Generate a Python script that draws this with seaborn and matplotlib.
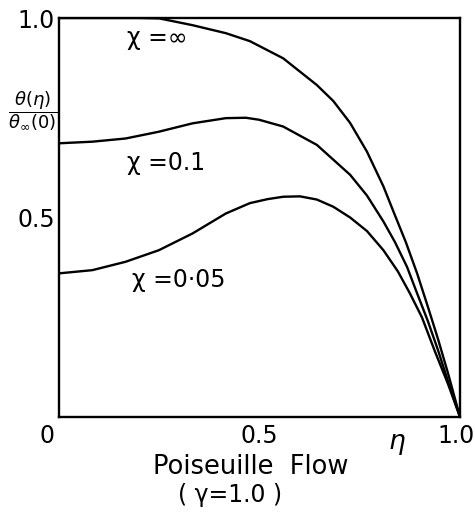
import numpy as np
import pandas as pd
import matplotlib
matplotlib.use("Agg")
import matplotlib.pyplot as plt
import seaborn as sns
from matplotlib.transforms import ScaledTranslation

# ---- data ----
eta_inf = [0.0, 0.10, 0.20, 0.25, 0.333, 0.416, 0.476, 0.559, 0.643, 0.684, 0.726,
           0.768, 0.809, 0.838, 0.865, 0.893, 0.920, 0.945, 0.970, 1.0]
theta_inf = [1.0, 1.0, 1.0, 0.999, 0.982, 0.962, 0.942, 0.899, 0.832, 0.792, 0.737,
             0.665, 0.578, 0.505, 0.438, 0.360, 0.276, 0.196, 0.110, 0.0]

eta_01 = [0.0, 0.083, 0.166, 0.249, 0.333, 0.416, 0.466, 0.499, 0.559, 0.643, 0.726,
          0.768, 0.809, 0.838, 0.868, 0.893, 0.920, 0.945, 0.970, 1.0]
theta_01 = [0.686, 0.690, 0.698, 0.715, 0.736, 0.749, 0.750, 0.745, 0.728, 0.682, 0.607,
            0.555, 0.490, 0.438, 0.376, 0.310, 0.240, 0.168, 0.090, 0.0]

eta_005 = [0.0, 0.083, 0.166, 0.249, 0.333, 0.416, 0.476, 0.520, 0.559, 0.601, 0.643,
           0.684, 0.726, 0.768, 0.809, 0.845, 0.875, 0.905, 0.938, 0.970, 1.0]
theta_005 = [0.360, 0.368, 0.389, 0.418, 0.460, 0.510, 0.536, 0.546, 0.552, 0.553, 0.545,
             0.527, 0.500, 0.466, 0.418, 0.365, 0.310, 0.250, 0.163, 0.083, 0.0]

curve_labels = ["χ =∞", "χ =0.1", "χ =0·05"]
x_ticks = [0.0, 0.5, 1.0]
x_ticklabels = ["0", "0.5", "1.0"]
y_ticks = [0.5, 1.0]
y_ticklabels = ["0.5", "1.0"]

df = pd.concat([
    pd.DataFrame({"eta": eta_inf, "theta": theta_inf, "chi": "inf"}),
    pd.DataFrame({"eta": eta_01, "theta": theta_01, "chi": "0.1"}),
    pd.DataFrame({"eta": eta_005, "theta": theta_005, "chi": "0.05"}),
], ignore_index=True)

sns.set_style("white")
plt.rcParams['font.family'] = ['DejaVu Sans']
plt.rcParams['mathtext.fontset'] = 'dejavusans'
plt.rcParams['text.color'] = 'black'
plt.rcParams['xtick.color'] = 'black'
plt.rcParams['ytick.color'] = 'black'

W, H = 475, 514
fig = plt.figure(figsize=(W / 100, H / 100), dpi=100)
ax = fig.add_axes([59 / W, 1 - 417 / H, 401 / W, 399 / H])

sns.lineplot(data=df, x="eta", y="theta", hue="chi",
             palette=["black", "black", "black"], legend=False,
             sort=False, estimator=None, linewidth=1.7, ax=ax)

ax.set_xlim(0, 1)
ax.set_ylim(0, 1)
ax.set_xticks(x_ticks)
ax.set_xticklabels(x_ticklabels)
ax.set_yticks(y_ticks)
ax.set_yticklabels(y_ticklabels)
ax.set_xlabel("")
ax.set_ylabel("")
for s in ax.spines.values():
    s.set_visible(True)
    s.set_color("black")
    s.set_linewidth(1.7)
ax.tick_params(direction="in", length=7, width=1.5, labelsize=17, colors="black")
ax.tick_params(axis="x", pad=5)
ax.tick_params(axis="y", pad=3)

# nudge end labels like the reference
xl = ax.get_xticklabels()
xl[0].set_transform(xl[0].get_transform() + ScaledTranslation(-12 / 100, 0, fig.dpi_scale_trans))
xl[2].set_transform(xl[2].get_transform() + ScaledTranslation(-4 / 100, 0, fig.dpi_scale_trans))

# curve labels
def dpt(X, Y):
    return (X - 59) / 401, (417 - Y) / 399

for lab, (X, Y) in zip(curve_labels, [(127, 38), (127, 163), (132, 280)]):
    x, y = dpt(X, Y)
    ax.text(x, y, lab, fontsize=17, ha="left", va="center", transform=ax.transData)

# eta axis symbol
ax.text(*dpt(397, 442), "η", fontsize=19, style="italic", ha="center", va="center",
        transform=ax.transData, clip_on=False)

# y label as fraction
fig.text(33 / W, 1 - 111 / H, r"$\dfrac{\theta(\eta)}{\theta_{\infty}(0)}$",
         fontsize=13, ha="center", va="center")

# x labels
fig.text(251 / W, 1 - 467 / H, "Poiseuille  Flow", fontsize=18.5, ha="center", va="center")
fig.text(230 / W, 1 - 495 / H, "( γ=1.0 )", fontsize=17, ha="center", va="center")

fig.savefig("out.png", dpi=100)
